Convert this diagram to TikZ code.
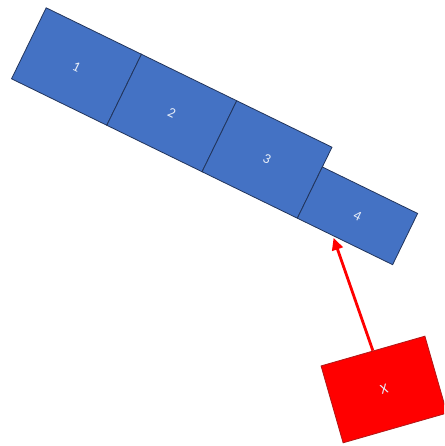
\documentclass[tikz,border=0pt]{standalone}
\usepackage{fontspec}
\setmainfont{Carlito}
\usetikzlibrary{arrows.meta,calc}
\definecolor{boxblue}{HTML}{4472C4}
\definecolor{boxedge}{HTML}{22355C}
\definecolor{redfill}{HTML}{FF0000}
\definecolor{rededge}{HTML}{B01818}
\definecolor{labeltext}{HTML}{E8EEF8}
\begin{document}
\begin{tikzpicture}[x=1pt,y=1pt,
  bluebox/.style={draw=boxedge,fill=boxblue,line width=0.8pt,minimum width=106pt,
    minimum height=79pt,inner sep=0pt,text=labeltext,font=\fontsize{14}{16}\selectfont,
    anchor=south west,transform shape},
  redbox/.style={draw=rededge,fill=redfill,line width=0.8pt,minimum width=108pt,
    minimum height=80pt,inner sep=0pt,text=labeltext,font=\fontsize{14}{16}\selectfont},
  redarrow/.style={draw=redfill,line width=2.8pt,-{Triangle[length=12pt,width=11pt]},shorten >=2pt}]
\useasboundingbox (0,0) rectangle (444,446);
\clip (0,0) rectangle (444,446);
\begin{scope}[shift={(11,367)},rotate=-26]
  \node[bluebox] (b1) at (0,0) {1};
  \node[bluebox] (b2) at (106,0) {2};
  \node[bluebox] (b3) at (212,0) {3};
  \node[bluebox,minimum height=57pt] (b4) at (318,0) {4};
\end{scope}
\node[redbox,rotate=16] (x) at (384,56.5) {X};
\coordinate (tip) at ($(b4.south west)!0.376!(b4.south east)$);
\draw[redarrow] (x.north) -- (tip);
\end{tikzpicture}
\end{document}
